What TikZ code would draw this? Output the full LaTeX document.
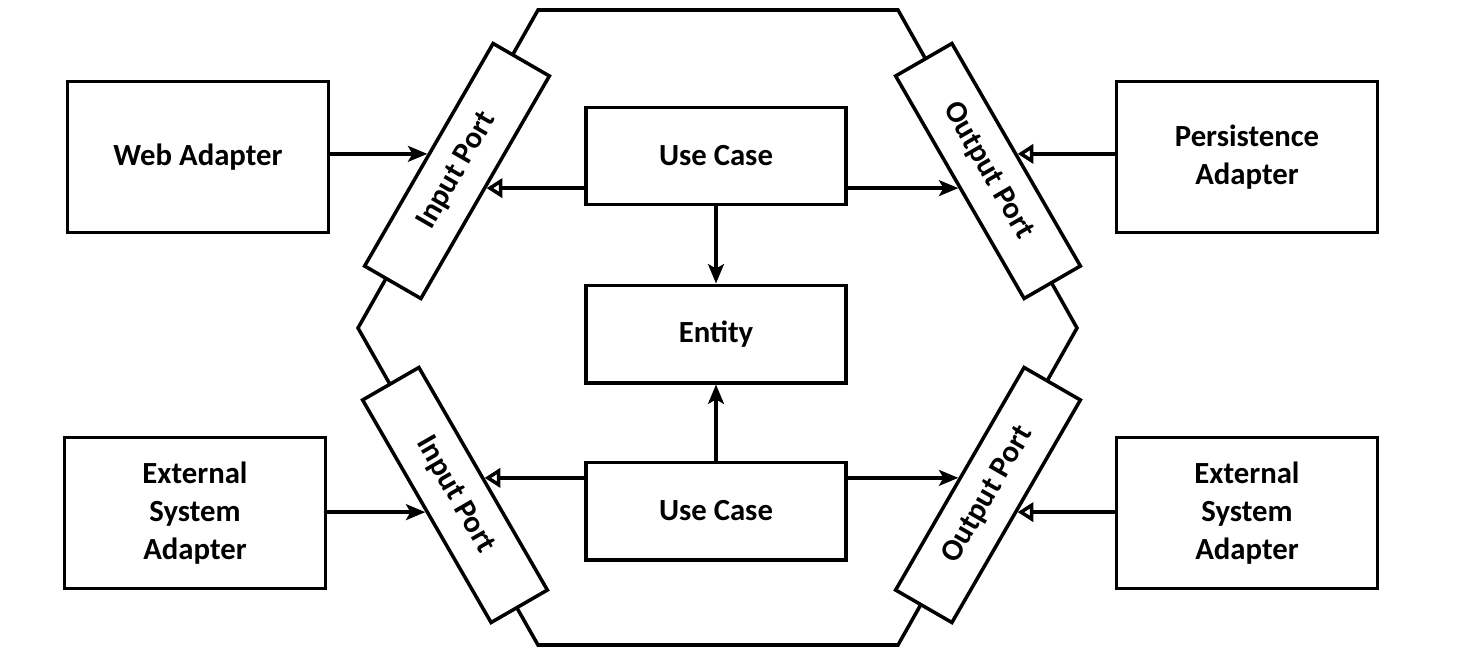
\documentclass[tikz,border=0pt]{standalone}
\usepackage{fontspec}
\setmainfont{Carlito}
\usepackage{tikz}
\usetikzlibrary{positioning,arrows.meta,calc}

\begin{document}
\begin{tikzpicture}[x=0.02cm, y=-0.02cm,
    every node/.style={font=\fontsize{17.5}{21.5}\selectfont\bfseries, align=center},
    box/.style={draw, line width=2pt, fill=white, inner sep=0pt},
    port/.style={box, minimum width=5.14cm, minimum height=1.3cm},
    link/.style={line width=2pt, -{Stealth[length=11pt, width=9pt, inset=2.5pt]}},
    uses/.style={line width=2pt, -{Triangle[open, fill=white, length=9pt, width=11pt]}}]
  \useasboundingbox (0,0) rectangle (1458,666);
  \def\bw{5.22cm}  \def\bh{3.02cm}
  \def\cw{5.2cm}   \def\ch{1.95cm}

  % hexagon (application core)
  \draw[line width=2pt] (538,10) -- (898,10) -- (1077,328) -- (898,645)
      -- (538,645) -- (358,328) -- cycle;

  % adapters
  \node[box, minimum width=\bw, minimum height=\bh] (web)     at (198,157)  {Web Adapter};
  \node[box, minimum width=\bw, minimum height=\bh] (persist) at (1247,157) {Persistence\\Adapter};
  \node[box, minimum width=\bw, minimum height=\bh] (extin)   at (195,513)  {External\\System\\Adapter};
  \node[box, minimum width=\bw, minimum height=\bh] (extout)  at (1247,513) {External\\System\\Adapter};

  % core
  \node[box, minimum width=\cw, minimum height=\ch] (uc1)    at (716,156) {Use Case};
  \node[box, minimum width=\cw, minimum height=\ch] (entity) at (716,334) {Entity};
  \node[box, minimum width=\cw, minimum height=\ch] (uc2)    at (716,511) {Use Case};

  % ports
  \node[port, rotate=60]  (pin1)  at (457,171) {Input Port};
  \node[port, rotate=-60] (pin2)  at (455,495) {Input Port};
  \node[port, rotate=-60] (pout1) at (988,171) {Output Port};
  \node[port, rotate=60]  (pout2) at (988,495) {Output Port};

  \draw[link] (web.east |- pin1.north) -- (pin1.north);
  \draw[uses] (uc1.west |- pin1.south) -- (pin1.south);
  \draw[link] (uc1.east |- pout1.south) -- (pout1.south);
  \draw[uses] (persist.west |- pout1.north) -- (pout1.north);
  \draw[link] (uc1) -- (entity);
  \draw[link] (uc2) -- (entity);
  \draw[link] (extin.east |- pin2.south) -- (pin2.south);
  \draw[uses] (uc2.west |- pin2.north) -- (pin2.north);
  \draw[link] (uc2.east |- pout2.north) -- (pout2.north);
  \draw[uses] (extout.west |- pout2.south) -- (pout2.south);
\end{tikzpicture}
\end{document}
